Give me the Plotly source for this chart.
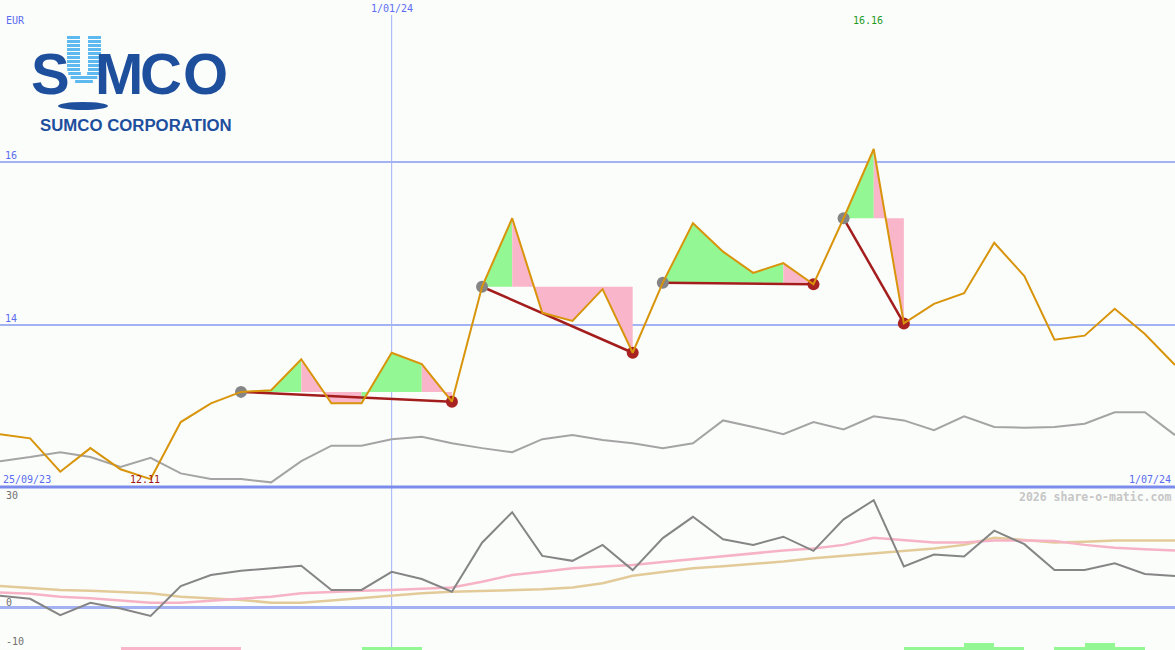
import math
import pandas as pd
import plotly.graph_objects as go

W, H = 1175, 650

# ---------------- data ----------------
DATES = pd.date_range("2023-10-02", periods=40, freq="7D")

PRICE = [12.66, 12.61, 12.20, 12.49, 12.23, 12.11, 12.81, 13.04, 13.18, 13.20,
         13.58, 13.04, 13.04, 13.66, 13.52, 13.06, 14.47, 15.31, 14.15, 14.05,
         14.44, 13.66, 14.52, 15.25, 14.90, 14.64, 14.76, 14.50, 15.31, 16.16,
         14.02, 14.26, 14.39, 15.01, 14.60, 13.82, 13.87, 14.20, 13.89, 13.51]

REL = [12.33, 12.38, 12.44, 12.38, 12.26, 12.37, 12.18, 12.11, 12.11, 12.07,
       12.33, 12.52, 12.52, 12.60, 12.63, 12.55, 12.49, 12.44, 12.60, 12.65,
       12.59, 12.55, 12.49, 12.55, 12.83, 12.75, 12.66, 12.81, 12.72, 12.88,
       12.83, 12.71, 12.88, 12.75, 12.74, 12.75, 12.79, 12.93, 12.93, 12.65]

MOM = [3.2, 2.3, -2.3, 1.2, -0.4, -2.5, 5.9, 9.0, 10.2, 10.9,
       11.6, 4.8, 4.8, 9.9, 7.9, 4.3, 18.1, 26.7, 14.4, 13.0,
       17.5, 10.4, 19.4, 25.4, 19.1, 17.5, 19.8, 15.8, 24.7, 30.1,
       11.4, 14.8, 14.2, 21.5, 17.7, 10.4, 10.4, 12.3, 9.3, 8.7]

MA_FAST = [4.1, 3.7, 2.9, 2.5, 1.8, 1.2, 1.2, 1.8, 2.2, 2.9,
           3.9, 4.3, 4.6, 4.8, 5.2, 5.5, 7.1, 9.0, 9.9, 10.9,
           11.4, 11.8, 12.7, 13.5, 14.4, 15.1, 15.9, 16.5, 17.5, 19.5,
           18.9, 18.2, 18.2, 18.7, 18.7, 18.6, 17.5, 16.7, 16.3, 15.9]

MA_SLOW = [5.9, 5.4, 4.8, 4.6, 4.3, 3.9, 2.9, 2.5, 2.0, 1.2,
           1.2, 1.8, 2.5, 3.2, 3.9, 4.3, 4.5, 4.8, 5.0, 5.5,
           6.7, 8.8, 9.8, 10.9, 11.5, 12.1, 12.8, 13.7, 14.4, 15.1,
           15.9, 16.5, 17.5, 19.5, 18.9, 18.2, 18.4, 18.7, 18.7, 18.7]

SIGNAL = [0, 0, 0, 0, -1, -1, -1, -1, 0, 0,
          0, 0, 1, 1, 0, 0, 0, 0, 0, 0,
          0, 0, 0, 0, 0, 0, 0, 0, 0, 0,
          1, 1, 2, 1, 0, 1, 2, 1, 0, 0]

PAT_START = [8, 16, 22, 28]
PAT_END = [15, 21, 27, 30]

PRICE_TICKS = [14, 16]
LOWER_TICKS = [-10, 0, 30]
CURRENCY = "EUR"
START_LABEL = "25/09/23"
MID_LABEL = "1/01/24"
MID_DATE = "2024-01-01"
END_LABEL = "1/07/24"
WATERMARK = "2026 share-o-matic.com"
COMPANY = "SUMCO CORPORATION"

# ---------------- style ----------------
BG = "#fbfdfb"
BLUE_TXT = "#5a6cf0"
GRID = "#a2b2f2"
SEP = "#7c8cec"
ORANGE = "#d8940a"
GRAYLINE = "#a4a4a4"
DARKRED = "#a31d1d"
GREEN_F = "#93f793"
PINK_F = "#f9b6ca"
MONO = "DejaVu Sans Mono"
LOGO_DARK = "#1e4f9d"
LOGO_LIGHT = "#5db9ef"


def px(x):
    return x / W


def py(y):
    return 1 - y / H


SPLIT = py(487)

fig = go.Figure()

# relative (gray) line in the price panel
fig.add_trace(go.Scatter(x=DATES, y=REL, mode="lines",
                         line=dict(color=GRAYLINE, width=2), hoverinfo="skip"))

# pattern fills: consecutive weeks of the same colour merged into one polygon
for s, e in zip(PAT_START, PAT_END):
    base = PRICE[s]
    runs = []
    for i in range(s, e):
        col = GREEN_F if PRICE[i + 1] > base else PINK_F
        if runs and runs[-1][0] == col:
            runs[-1][2] = i + 1
        else:
            runs.append([col, i, i + 1])
    for col, a, b in runs:
        xs = [DATES[a]] + [DATES[k] for k in range(a, b + 1)] + [DATES[b], DATES[a]]
        ys = [base] + [PRICE[k] for k in range(a, b + 1)] + [base, base]
        fig.add_trace(go.Scatter(x=xs, y=ys, mode="lines", fill="toself",
                                 fillcolor=col, line=dict(width=0),
                                 hoverinfo="skip"))

# pattern connecting lines
for s, e in zip(PAT_START, PAT_END):
    fig.add_trace(go.Scatter(x=[DATES[s], DATES[e]], y=[PRICE[s], PRICE[e]],
                             mode="lines", line=dict(color=DARKRED, width=2.5),
                             hoverinfo="skip"))

fig.add_trace(go.Scatter(x=[DATES[s] for s in PAT_START],
                         y=[PRICE[s] for s in PAT_START], mode="markers",
                         marker=dict(color="#858585", size=12), hoverinfo="skip"))
fig.add_trace(go.Scatter(x=[DATES[e] for e in PAT_END],
                         y=[PRICE[e] for e in PAT_END], mode="markers",
                         marker=dict(color="#a82222", size=12), hoverinfo="skip"))

# price line
fig.add_trace(go.Scatter(x=DATES, y=PRICE, mode="lines",
                         line=dict(color=ORANGE, width=2), hoverinfo="skip"))

# lower panel
fig.add_trace(go.Scatter(x=DATES, y=MA_SLOW, yaxis="y2", mode="lines",
                         line=dict(color="#e3cb99", width=2.5), hoverinfo="skip"))
fig.add_trace(go.Scatter(x=DATES, y=MA_FAST, yaxis="y2", mode="lines",
                         line=dict(color="#f7b3c6", width=2.5), hoverinfo="skip"))
fig.add_trace(go.Scatter(x=DATES, y=MOM, yaxis="y2", mode="lines",
                         line=dict(color="#858585", width=2), hoverinfo="skip"))

half_week = pd.Timedelta(days=3.5)
week_ms = 7 * 24 * 3600 * 1000
fig.add_trace(go.Bar(x=[d + half_week for d in DATES], y=[abs(v) for v in SIGNAL],
                     yaxis="y3", width=week_ms,
                     marker=dict(color=[PINK_F if v < 0 else GREEN_F for v in SIGNAL],
                                 line=dict(width=0)),
                     hoverinfo="skip"))

shapes = []
# 1/01/24 marker line
shapes.append(dict(type="line", xref="x", yref="paper", x0=MID_DATE, x1=MID_DATE,
                   y0=0, y1=py(15), line=dict(color="#9fb0f6", width=1), layer="below"))
# panel separator
shapes.append(dict(type="line", xref="paper", yref="paper", x0=0, x1=1,
                   y0=SPLIT, y1=SPLIT, line=dict(color=SEP, width=3)))

# logo: striped U
cx, cy, ro, ri = 84.0, 67.0, 17.0, 4.0
for j in range(12):
    y0 = 36 + 4 * j
    y1 = y0 + 3
    yc = (y0 + y1) / 2
    if yc <= cy:
        ow, iw = ro, ri
    else:
        dy = yc - cy
        ow = math.sqrt(max(ro * ro - dy * dy, 0))
        dyi = yc - (cy + 4)
        iw = math.sqrt(ri * ri - dyi * dyi) if dyi < ri and yc > cy + 4 else (ri if yc <= cy + 4 else 0)
    if ow <= 0:
        continue
    if iw > 0:
        segs = [(cx - ow, cx - iw), (cx + iw, cx + ow)]
    else:
        segs = [(cx - ow, cx + ow)]
    for a, b in segs:
        shapes.append(dict(type="rect", xref="paper", yref="paper",
                           x0=px(a), x1=px(b), y0=py(y1), y1=py(y0),
                           fillcolor=LOGO_LIGHT, line=dict(width=0)))
# logo ellipse
shapes.append(dict(type="circle", xref="paper", yref="paper",
                   x0=px(58), x1=px(108), y0=py(110), y1=py(102),
                   fillcolor=LOGO_DARK, line=dict(width=0)))

annotations = []


def label(text, x, y, color, size=10, xanchor="left", family=MONO, xref="paper",
          xshift=0, yref="paper", yshift=0):
    annotations.append(dict(text=text, x=x, y=y, xref=xref, yref=yref,
                            xanchor=xanchor, yanchor="middle", showarrow=False,
                            xshift=xshift, yshift=yshift,
                            font=dict(family=family, size=size, color=color)))


label(CURRENCY, px(4), py(20), BLUE_TXT)
label(MID_LABEL, MID_DATE, py(9), BLUE_TXT, xanchor="center", xref="x")
imax = PRICE.index(max(PRICE))
imin = PRICE.index(min(PRICE))
label(f"{PRICE[imax]:.2f}", DATES[imax], py(21), "#1f9a1f", xanchor="center", xref="x", xshift=-6)
label(f"{PRICE[imin]:.2f}", DATES[imin], py(479), "#a01818", xanchor="center", xref="x", xshift=-6)
label(START_LABEL, px(1), py(479), BLUE_TXT)
label(END_LABEL, px(1173), py(479), BLUE_TXT, xanchor="right")
label(f"<b>{WATERMARK}</b>", px(1173), py(497), "#c6c6c6", size=11.5, xanchor="right")

# lower panel tick labels (sit just above their level, kept inside the panel)
for v in LOWER_TICKS:
    label(str(v), px(4), v, "#707070", yref="y2", yshift=5 if v >= 0 else 1)

# logo letters
for ch, x in [("S", 50), ("M", 118.5), ("C", 160.5), ("O", 205)]:
    annotations.append(dict(text=f"<b>{ch}</b>", x=px(x), y=py(73), xref="paper", yref="paper",
                            xanchor="center", yanchor="middle", showarrow=False,
                            font=dict(family="Liberation Sans", size=58, color=LOGO_DARK)))
annotations.append(dict(text=f"<b>{COMPANY}</b>", x=px(135.5), y=py(126), xref="paper",
                        yref="paper", xanchor="center", yanchor="middle", showarrow=False,
                        font=dict(family="Liberation Sans", size=16.8, color=LOGO_DARK)))

fig.update_layout(
    width=W, height=H,
    margin=dict(l=0, r=0, t=0, b=0),
    paper_bgcolor=BG, plot_bgcolor=BG,
    showlegend=False,
    bargap=0,
    xaxis=dict(domain=[0, 1], range=[DATES[0], DATES[-1]], visible=False,
               anchor="y", fixedrange=True),
    yaxis=dict(domain=[SPLIT, 1], range=[12.013, 17.988], tickvals=PRICE_TICKS,
               ticktext=[str(v) for v in PRICE_TICKS], showgrid=True,
               gridcolor=GRID, gridwidth=2, zeroline=False, showline=False,
               ticks="", ticklabelposition="inside top", ticklabelstandoff=2,
               tickfont=dict(family=MONO, size=10, color=BLUE_TXT), fixedrange=True),
    yaxis2=dict(domain=[0, SPLIT], range=[-12.11, 33.8], showticklabels=False,
                showgrid=False, zeroline=True, zerolinecolor=GRID, zerolinewidth=2.5,
                showline=False, ticks="", anchor="x", fixedrange=True),
    yaxis3=dict(overlaying="y2", range=[0, 49], visible=False, anchor="x",
                fixedrange=True),
    shapes=shapes,
    annotations=annotations,
)

fig.write_html("out.html", config={"displayModeBar": False},
               post_script="document.body.style.margin='0';")
